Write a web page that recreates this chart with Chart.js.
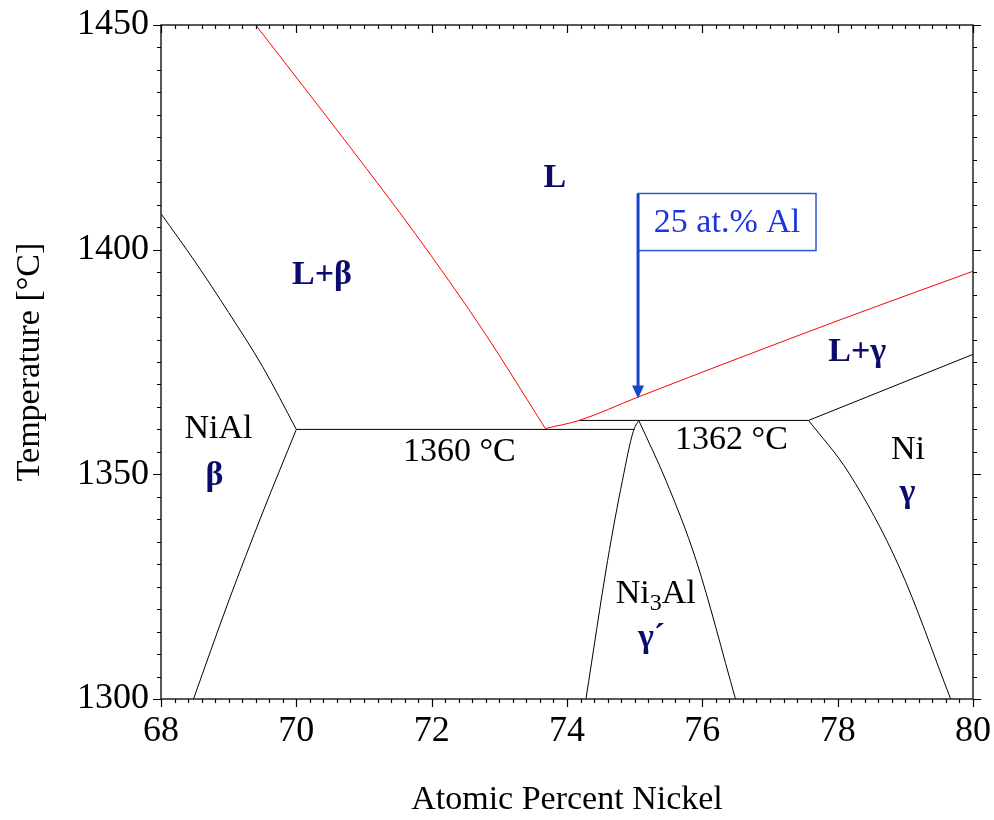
<!DOCTYPE html>
<html>
<head>
<meta charset="utf-8">
<style>
  html, body { margin: 0; padding: 0; background: #fff; }
</style>
<script src="https://cdn.jsdelivr.net/npm/chart.js@4.4.1/dist/chart.umd.min.js"></script>
</head>
<body>
<canvas id="diagram" width="994" height="820"></canvas>
<script>
// Ni-Al phase diagram, Ni-rich part (x: at.% Ni, y: temperature in °C)
const xTicks = [68, 70, 72, 74, 76, 78, 80];
const yTicks = [1300, 1350, 1400, 1450];

// phase boundaries, [at.% Ni, °C], ordered by composition
const betaLiquidus   = [[69.4, 1450], [70.79, 1422.9], [71.77, 1403.3], [72.76, 1382.0], [73.68, 1360.2]];
const gammaLiquidus  = [[73.68, 1360.2], [74.18, 1362], [75.05, 1367.2], [78.02, 1384.3], [80, 1395.2]];
const betaSolidus    = [[68.0, 1408], [68.5, 1397.4], [69.0, 1386.0], [69.5, 1374.0], [70.0, 1360]];
const betaSolvus     = [[68.48, 1300], [69.0, 1321.8], [69.5, 1341.4], [70.0, 1360]];
const eutectic       = [[70.0, 1360], [75.0, 1360]];
const peritectic     = [[74.18, 1362], [77.57, 1362]];
const gpLeft         = [[74.28, 1300], [74.6, 1330.8], [74.82, 1348.7], [74.98, 1359.6], [75.06, 1362]];
const gpRight        = [[75.06, 1362], [75.46, 1348.7], [75.91, 1330.8], [76.49, 1300]];
const gammaSolidus   = [[77.57, 1362], [80, 1376.7]];
const gammaSolvus    = [[77.57, 1362], [78.17, 1350.2], [78.91, 1329.4], [79.67, 1300]];

// composition marker: 25 at.% Al = 75 at.% Ni
const markerX = 75.05;
const markerTop = 1412.5;
const markerTip = 1366.9;
const markerBox = [75.05, 77.68, 1399.8, 1412.5]; // x0, x1, yLow, yHigh
const markerText = '25 at.% Al';

// region labels: text, x, y, kind
const regionLabels = [
  ['L', 73.82, 1415.9, 'phase'],
  ['L+β', 70.38, 1394.3, 'phase'],
  ['L+γ', 78.29, 1377.1, 'phase'],
  ['NiAl', 68.85, 1360.1, 'name'],
  ['β', 68.79, 1349.6, 'phase'],
  ['1360 °C', 72.41, 1354.9, 'name'],
  ['1362 °C', 76.43, 1357.6, 'name'],
  ['Ni', 79.04, 1355.3, 'name'],
  ['γ', 79.03, 1345.8, 'phase'],
  ['γ´', 75.25, 1313.5, 'phase']
];
const ni3alLabel = [75.31, 1323.3];

const SERIF = "'Liberation Serif', 'Times New Roman', serif";
const NAVY = '#0b0b6b';

const toXY = pts => pts.map(p => ({ x: p[0], y: p[1] }));

function boundary(pts, color, smooth) {
  return {
    data: toXY(pts),
    borderColor: color,
    borderWidth: 1,
    pointRadius: 0,
    cubicInterpolationMode: smooth ? 'monotone' : 'default',
    tension: 0,
    fill: false
  };
}

// let the layout padding alone decide the plot box
function noOverflow(s) {
  s.paddingTop = 0;
  s.paddingBottom = 0;
  s.paddingLeft = 0;
  s.paddingRight = 0;
}

const decorations = {
  id: 'decorations',
  afterDatasetsDraw(chart) {
    const { ctx, chartArea: a, scales: { x, y } } = chart;
    ctx.save();

    // frame
    ctx.strokeStyle = '#222';
    ctx.lineWidth = 1.5;
    ctx.strokeRect(a.left, a.top, a.right - a.left, a.bottom - a.top);

    // ticks: bottom/left/right outward, top inward
    ctx.lineWidth = 1.2;
    ctx.strokeStyle = '#000';
    ctx.beginPath();
    for (let i = 0; i <= 60; i++) {
      const v = 68 + i * 0.2;
      const px = Math.round(x.getPixelForValue(v)) + 0.5;
      const len = i % 10 === 0 ? 8 : 4;
      ctx.moveTo(px, a.bottom); ctx.lineTo(px, a.bottom + len);
      ctx.moveTo(px, a.top); ctx.lineTo(px, a.top + len);
    }
    for (let i = 0; i <= 30; i++) {
      const v = 1300 + i * 5;
      const py = Math.round(y.getPixelForValue(v)) + 0.5;
      const len = i % 10 === 0 ? 8 : 4;
      ctx.moveTo(a.left, py); ctx.lineTo(a.left - len, py);
      ctx.moveTo(a.right, py); ctx.lineTo(a.right + len, py);
    }
    ctx.stroke();

    // region labels
    ctx.textAlign = 'center';
    ctx.textBaseline = 'middle';
    regionLabels.forEach(([t, lx, ly, kind]) => {
      ctx.font = (kind === 'phase' ? 'bold ' : '') + '34px ' + SERIF;
      ctx.fillStyle = kind === 'phase' ? NAVY : '#000';
      ctx.fillText(t, x.getPixelForValue(lx), y.getPixelForValue(ly));
    });

    // Ni3Al with subscript
    const cx = x.getPixelForValue(ni3alLabel[0]);
    const cy = y.getPixelForValue(ni3alLabel[1]);
    ctx.fillStyle = '#000';
    ctx.textAlign = 'left';
    ctx.font = '34px ' + SERIF;
    const wNi = ctx.measureText('Ni').width;
    const wAl = ctx.measureText('Al').width;
    ctx.font = '24px ' + SERIF;
    const w3 = ctx.measureText('3').width;
    const sx = cx - (wNi + w3 + wAl) / 2;
    ctx.font = '34px ' + SERIF;
    ctx.fillText('Ni', sx, cy);
    ctx.font = '24px ' + SERIF;
    ctx.fillText('3', sx + wNi, cy + 9);
    ctx.font = '34px ' + SERIF;
    ctx.fillText('Al', sx + wNi + w3, cy);

    // composition marker box + arrow
    const bx0 = x.getPixelForValue(markerBox[0]);
    const bx1 = x.getPixelForValue(markerBox[1]);
    const byTop = y.getPixelForValue(markerBox[3]);
    const byBot = y.getPixelForValue(markerBox[2]);
    ctx.strokeStyle = '#2f55d4';
    ctx.lineWidth = 1.5;
    ctx.strokeRect(bx0, byTop, bx1 - bx0, byBot - byTop);
    ctx.fillStyle = '#1a35e0';
    ctx.textAlign = 'center';
    ctx.font = '34px ' + SERIF;
    ctx.fillText(markerText, (bx0 + bx1) / 2, (byTop + byBot) / 2 + 1);

    const ax = x.getPixelForValue(markerX);
    const aTop = y.getPixelForValue(markerTop);
    const aTip = y.getPixelForValue(markerTip);
    ctx.strokeStyle = '#1646c8';
    ctx.fillStyle = '#1646c8';
    ctx.lineWidth = 3;
    ctx.beginPath();
    ctx.moveTo(ax, aTop);
    ctx.lineTo(ax, aTip - 10);
    ctx.stroke();
    ctx.beginPath();
    ctx.moveTo(ax, aTip);
    ctx.lineTo(ax - 6, aTip - 13);
    ctx.lineTo(ax + 6, aTip - 13);
    ctx.closePath();
    ctx.fill();

    ctx.restore();
  }
};

new Chart(document.getElementById('diagram'), {
  type: 'line',
  data: {
    datasets: [
      boundary(betaLiquidus, '#ff0000', true),
      boundary(gammaLiquidus, '#ff0000', true),
      boundary(betaSolidus, '#000', true),
      boundary(betaSolvus, '#000', true),
      boundary(eutectic, '#000', false),
      boundary(peritectic, '#000', false),
      boundary(gpLeft, '#000', true),
      boundary(gpRight, '#000', true),
      boundary(gammaSolidus, '#000', false),
      boundary(gammaSolvus, '#000', true)
    ]
  },
  options: {
    responsive: false,
    animation: false,
    layout: { padding: { left: 0, right: 21, top: 25, bottom: 0 } },
    plugins: {
      legend: { display: false },
      tooltip: { enabled: false }
    },
    scales: {
      x: {
        type: 'linear',
        min: 68,
        max: 80,
        afterFit: s => { s.height = 121; noOverflow(s); },
        afterBuildTicks: s => { s.ticks = xTicks.map(v => ({ value: v })); },
        grid: { display: false, drawTicks: false },
        border: { display: false },
        ticks: {
          color: '#000',
          padding: 11,
          font: { family: SERIF, size: 36 },
          callback: v => String(v)
        },
        title: {
          display: true,
          text: 'Atomic Percent Nickel',
          color: '#000',
          font: { family: SERIF, size: 34 },
          padding: { top: 0, bottom: 0 }
        }
      },
      y: {
        type: 'linear',
        min: 1300,
        max: 1450,
        afterFit: s => { s.width = 161; noOverflow(s); },
        afterBuildTicks: s => { s.ticks = yTicks.map(v => ({ value: v })); },
        grid: { display: false, drawTicks: false },
        border: { display: false },
        ticks: {
          color: '#000',
          padding: 12,
          font: { family: SERIF, size: 36 },
          callback: v => String(v)
        },
        title: {
          display: true,
          text: 'Temperature [°C]',
          color: '#000',
          font: { family: SERIF, size: 34 },
          padding: { top: 10, bottom: 0 }
        }
      }
    }
  },
  plugins: [decorations]
});
</script>
</body>
</html>
